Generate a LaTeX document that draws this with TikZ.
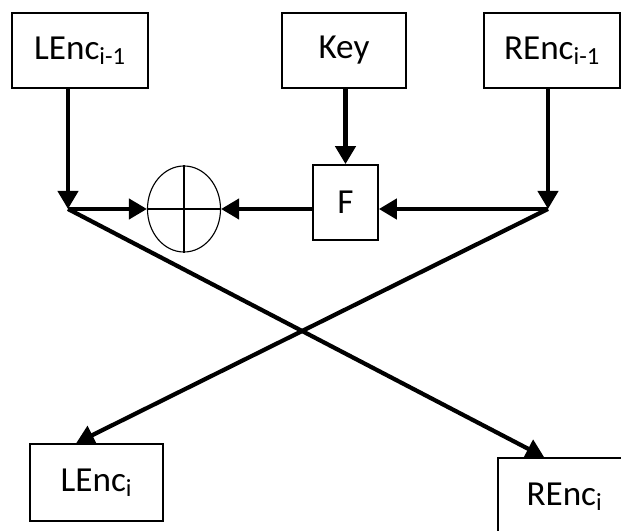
\documentclass[tikz,border=0pt]{standalone}
\usepackage{fontspec}
\setmainfont{Carlito}
\usetikzlibrary{arrows.meta,shapes.geometric}
\tikzset{
  blk/.style={rectangle,draw,line width=1.2pt,inner sep=0pt,font=\fontsize{25}{30}\selectfont},
  flow/.style={line width=3pt,-{Triangle[length=0.45cm,width=0.5cm]}},
}
\begin{document}
\begin{tikzpicture}[x=0.025cm,y=-0.025cm]
  \useasboundingbox (0,0) rectangle (621,531);
  \clip (0,0) rectangle (621,531);
  % draw input halves and key
  \node at(80,50.5)[blk,minimum width=3.4cm,minimum height=1.875cm](lprev){LEnc\textsubscript{i-1}};
  \node at(344,50.5)[blk,minimum width=3.1cm,minimum height=1.875cm](key){Key};
  \node at(552,50.5)[blk,minimum width=3.4cm,minimum height=1.875cm](rprev){REnc\textsubscript{i-1}};
  % draw round function
  \node at(345.5,202.5)[blk,minimum width=1.625cm,minimum height=1.875cm](f){F};
  % draw xor
  \node at(184,209)[ellipse,draw,line width=0.8pt,minimum width=1.825cm,minimum height=2.15cm,inner sep=0pt](xor){};
  \draw [line width=0.8pt](xor.north) -- (xor.south);
  \draw [line width=0.8pt](xor.west) -- (xor.east);
  % draw output halves
  \node at(96.5,482.5)[blk,minimum width=3.325cm,minimum height=1.925cm](lnext){LEnc\textsubscript{i}};
  \node at(564.5,497)[blk,minimum width=3.325cm,minimum height=1.95cm](rnext){REnc\textsubscript{i}};
  % junctions
  \coordinate (lj) at (68,209);
  \coordinate (rj) at (548,209);
  % draw arrows
  \draw [flow](lprev.south -| lj) -- (lj);
  \draw [flow](rprev.south -| rj) -- (rj);
  \draw [flow](key.south -| f) -- (f.north);
  \draw [flow](lj) -- (xor.west);
  \draw [flow](f.west |- lj) -- (xor.east);
  \draw [flow](rj) -- (f.east |- rj);
  % draw swap
  \draw [flow](lj) -- ([xshift=1.175cm]rnext.north west);
  \draw [flow](rj) -- ([xshift=1.175cm]lnext.north west);
\end{tikzpicture}
\end{document}
